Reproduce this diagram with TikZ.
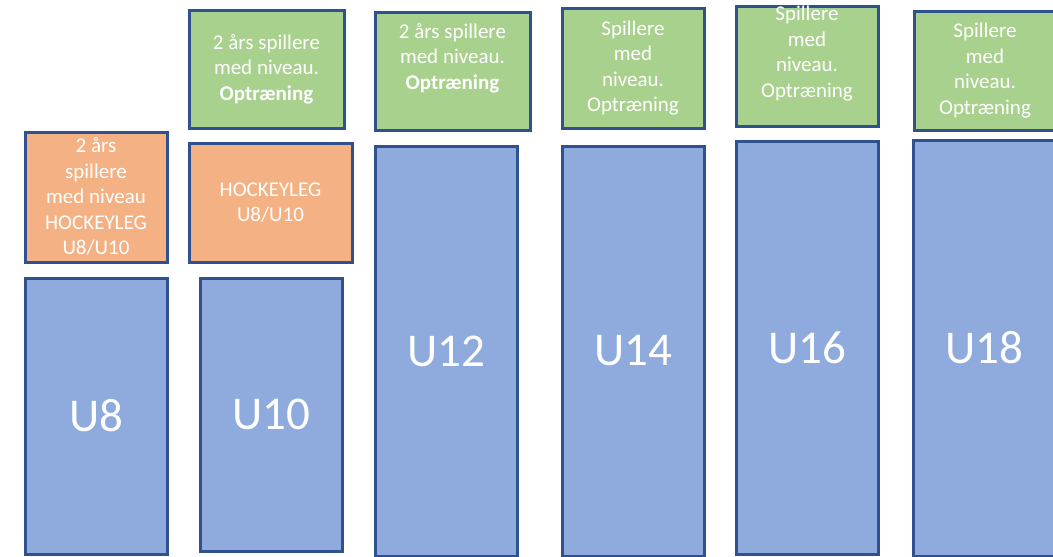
\documentclass[tikz,border=0pt]{standalone}
\usepackage{fontspec}
\setmainfont{Carlito}
\definecolor{kant}{HTML}{2F528F}
\definecolor{blaa}{HTML}{8FAADC}
\definecolor{groen}{HTML}{A9D18E}
\definecolor{orangeb}{HTML}{F4B183}
% tekst som sidder lidt over midten af kassen
\newcommand{\hoej}[1]{\raisebox{7pt}[0pt][0pt]{\begin{tabular}{@{}c@{}}#1\end{tabular}}}
\begin{document}
\begin{tikzpicture}[x=1pt,y=-1pt]
  \tikzset{ ub/.style={rectangle,draw=kant,line width=3pt,fill=blaa,text=white,inner sep=0pt,font=\fontsize{47}{56}\selectfont},
  gb/.style={rectangle,draw=kant,line width=3pt,fill=groen,text=white,inner sep=0pt,align=center,font=\fontsize{21}{25.5}\selectfont},
  ob/.style={gb,fill=orangeb},
  }
  \useasboundingbox (0,0) rectangle (1053,557);

  % U8
  \node[ob,minimum width=142pt,minimum height=130pt] (u8o) at (96,197) {2 års\\spillere\\med niveau\\HOCKEYLEG\\U8/U10};
  \node[ub,minimum width=142pt,minimum height=276pt] (u8) at (96,416) {U8};

  % U10
  \node[gb,minimum width=155pt,minimum height=118pt] (u10g) at (266.5,69) {2 års spillere\\med niveau.\\\textbf{Optræning}};
  \node[ob,minimum width=163pt,minimum height=119pt] (u10o) at (270.5,202.5) {HOCKEYLEG\\U8/U10};
  \node[ub,minimum width=142pt,minimum height=273pt] (u10) at (271,414.5) {U10};

  % U12
  \node[gb,minimum width=155pt,minimum height=118pt] (u12g) at (452.5,71) {\hoej{2 års spillere\\med niveau.\\\textbf{Optræning}}};
  \node[ub,minimum width=142pt,minimum height=410pt] (u12) at (446,351) {U12};

  % U14
  \node[gb,minimum width=142pt,minimum height=120pt] (u14g) at (633,68) {Spillere\\med\\niveau.\\Optræning};
  \node[ub,minimum width=142pt,minimum height=410pt] (u14) at (633,351) {U14};

  % U16
  \node[gb,minimum width=142pt,minimum height=120pt] (u16g) at (807,66) {\hoej{Spillere\\med\\niveau.\\Optræning}};
  \node[ub,minimum width=142pt,minimum height=413pt] (u16) at (807,348) {U16};

  % U18
  \node[gb,minimum width=142pt,minimum height=119pt] (u18g) at (985,70.5) {Spillere\\med\\niveau.\\Optræning};
  \node[ub,minimum width=142pt,minimum height=416pt] (u18) at (984,348) {U18};
\end{tikzpicture}
\end{document}
